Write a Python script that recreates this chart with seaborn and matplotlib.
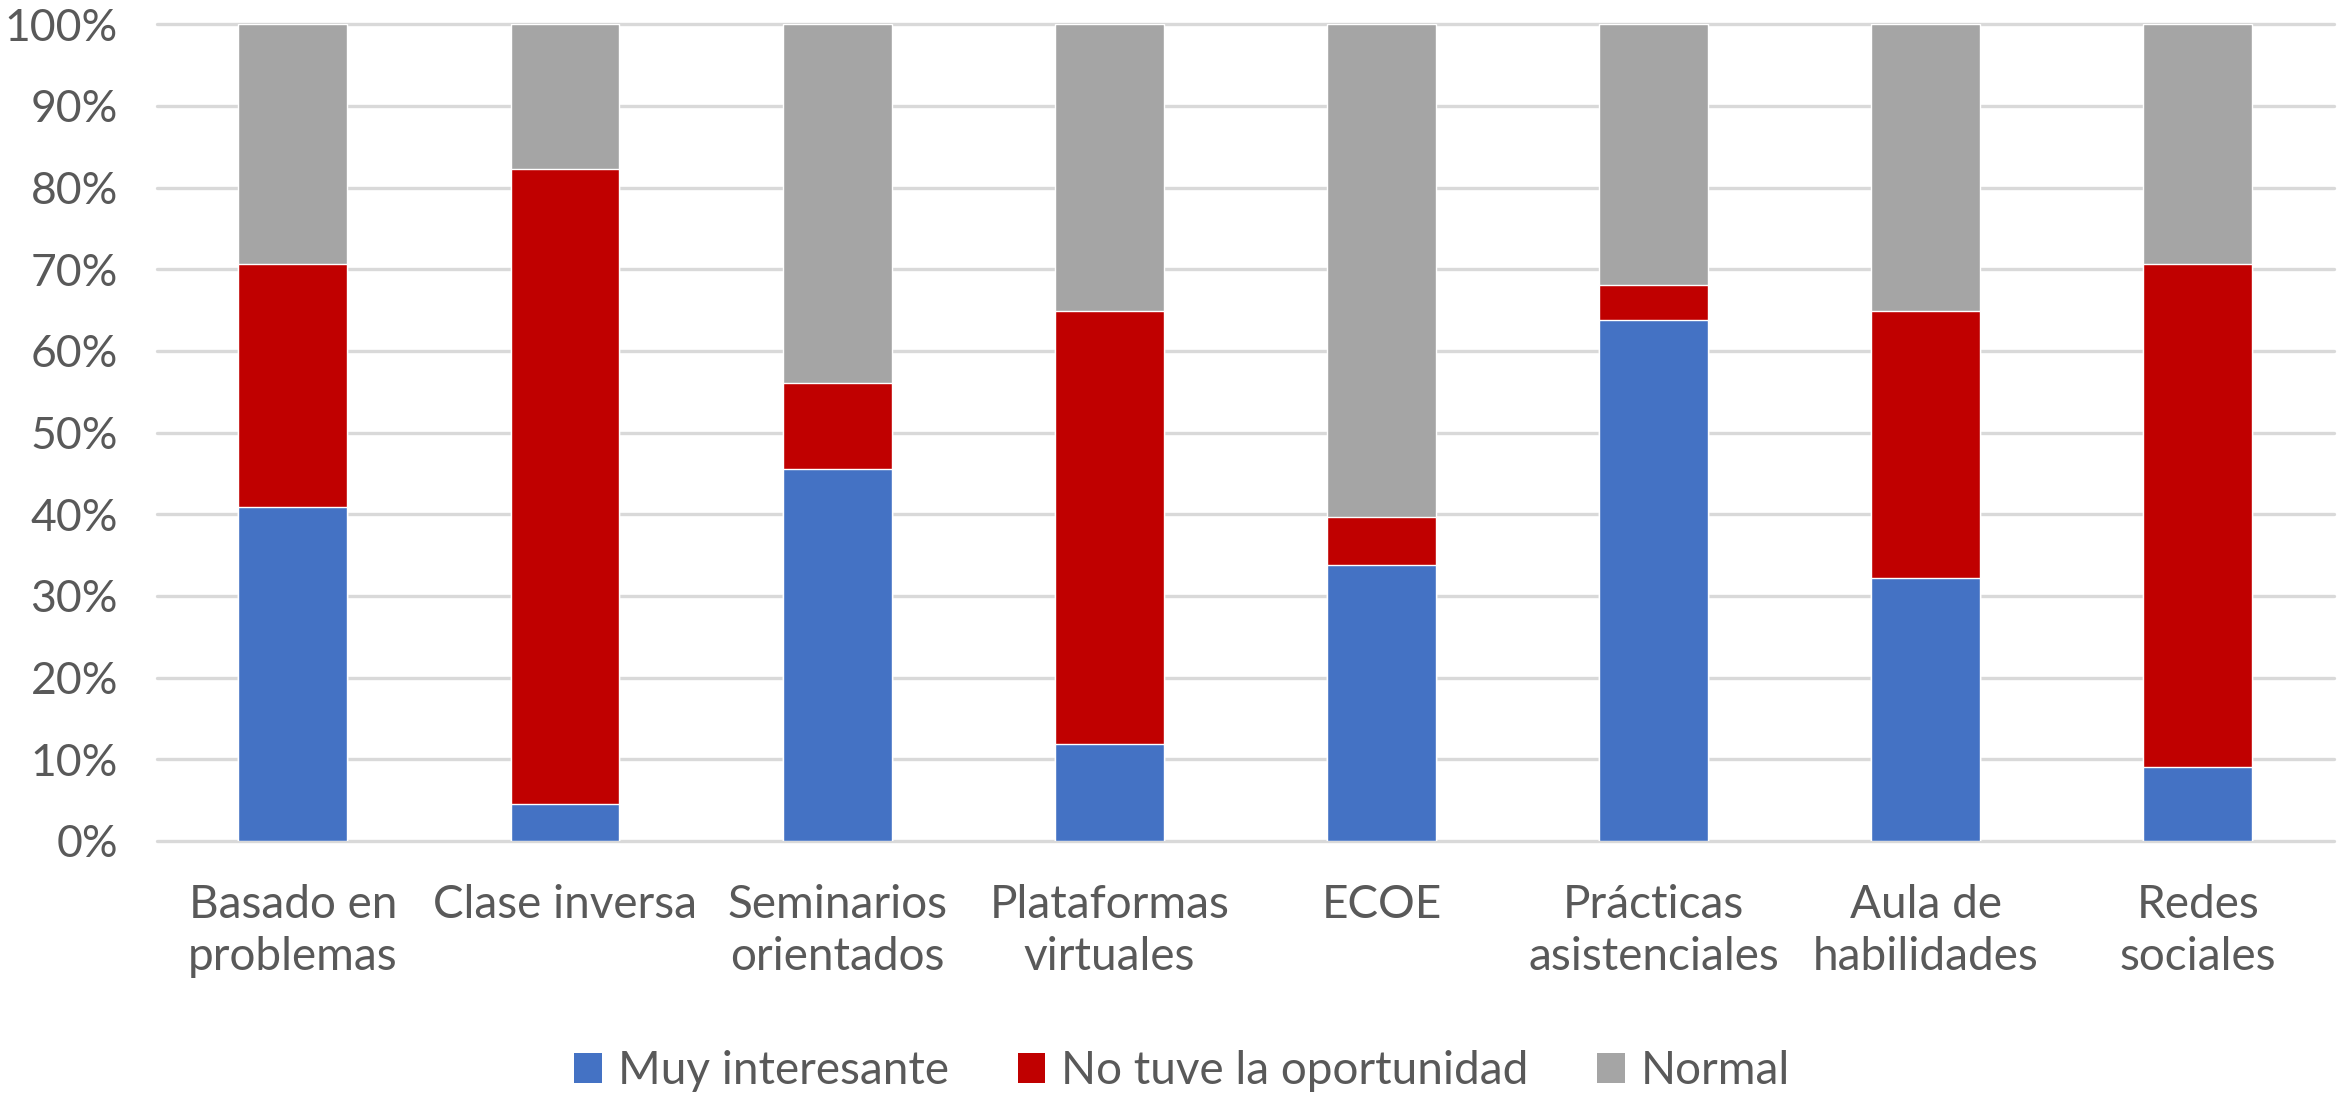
import pandas as pd
import matplotlib.pyplot as plt
import seaborn as sns
from matplotlib.patches import Patch
from matplotlib.ticker import FuncFormatter

categories = [
    "Basado en\nproblemas",
    "Clase inversa",
    "Seminarios\norientados",
    "Plataformas\nvirtuales",
    "ECOE",
    "Prácticas\nasistenciales",
    "Aula de\nhabilidades",
    "Redes\nsociales",
]
muy_interesante = [40.9, 4.5, 45.5, 11.9, 33.8, 63.8, 32.2, 9.0]
no_oportunidad = [29.75, 77.8, 10.6, 53.0, 5.85, 4.3, 32.7, 61.7]
normal = [29.35, 17.7, 43.9, 35.1, 60.35, 31.9, 35.1, 29.3]

series_names = ["Muy interesante", "No tuve la oportunidad", "Normal"]
colors = ["#4472C4", "#C00000", "#A5A5A5"]

df = pd.DataFrame({
    "categoria": categories,
    "interesante": muy_interesante,
    "oportunidad": no_oportunidad,
    "normal": normal,
})
# cumulative tops for stacking (draw tallest first)
df["top_oportunidad"] = df["interesante"] + df["oportunidad"]
df["top_normal"] = df["top_oportunidad"] + df["normal"]

sns.set_style("white")
plt.rcParams["font.family"] = ["Lato", "DejaVu Sans"]

fig = plt.figure(figsize=(23.41, 11.02), dpi=100)
ax = fig.add_axes([0.067, 0.237, 0.930, 0.741])

for col, color in zip(["top_normal", "top_oportunidad", "interesante"], colors[::-1]):
    sns.barplot(data=df, x="categoria", y=col, color=color, width=0.4,
                saturation=1, ax=ax, zorder=3)

ax.set_ylim(0, 100)
ax.set_yticks(range(0, 101, 10))
ax.yaxis.set_major_formatter(FuncFormatter(lambda v, _: f"{v:.0f}%"))
ax.grid(axis="y", color="#D9D9D9", linewidth=2.4, zorder=0)
ax.set_axisbelow(True)
for gl in ax.get_ygridlines():
    gl.set_clip_on(False)
for s in ax.spines.values():
    s.set_visible(False)

ax.set_xlabel("")
ax.set_ylabel("")
ax.tick_params(axis="y", length=0, pad=28, labelsize=32, labelcolor="#595959")
ax.tick_params(axis="x", length=0, pad=31, labelsize=33, labelcolor="#595959")
for lbl in ax.get_xticklabels():
    lbl.set_linespacing(1.3)

handles = [Patch(facecolor=c, edgecolor="none") for c in colors]
fig.legend(handles, series_names, loc="center", bbox_to_anchor=(0.505, 0.028),
           ncol=3, frameon=False, fontsize=33, labelcolor="#595959",
           handlelength=0.6, handleheight=0.6, handletextpad=0.35,
           columnspacing=1.5)

fig.savefig("out.png", dpi=100)
